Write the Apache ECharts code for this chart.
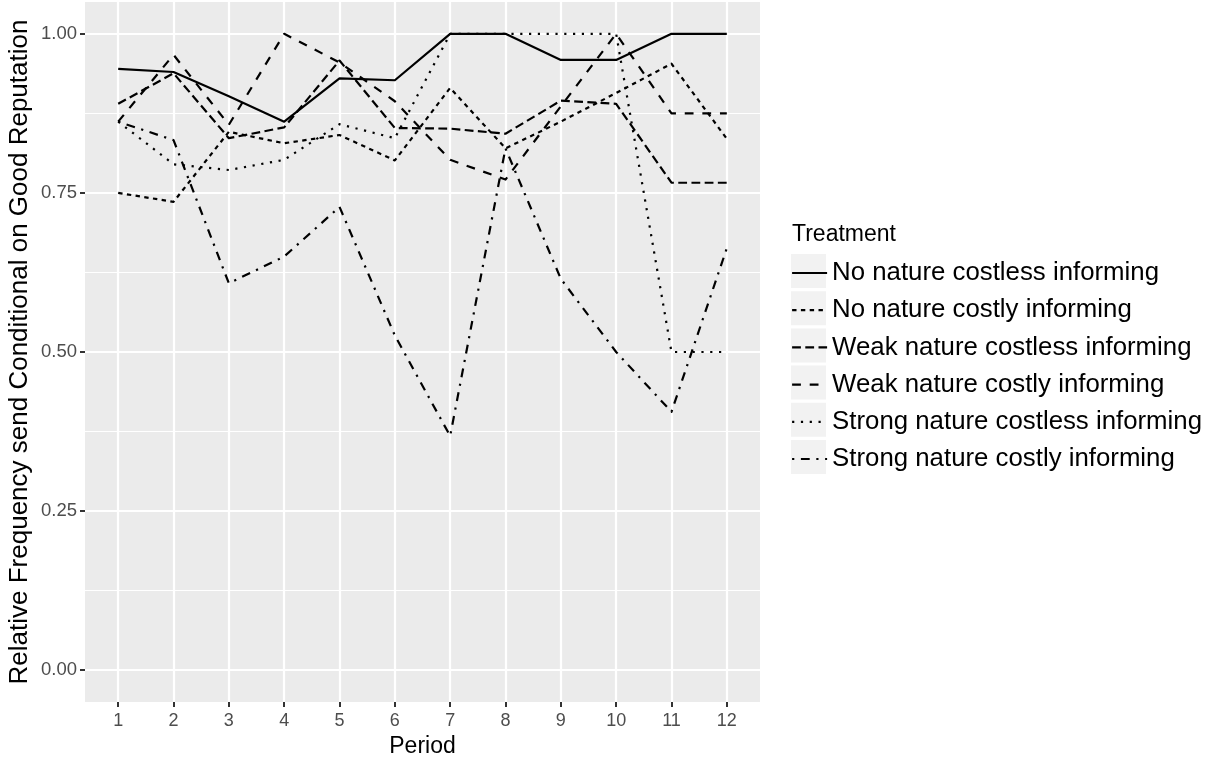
<!DOCTYPE html>
<html>
<head>
<meta charset="utf-8">
<script src="https://cdn.jsdelivr.net/npm/echarts@6/dist/echarts.min.js"></script>
<style>
  html, body { margin: 0; padding: 0; background: #ffffff; }
  #chart { width: 1212px; height: 759px; }
</style>
</head>
<body>
<div id="chart"></div>
<script>
// Periods on the x axis
const periods = [1, 2, 3, 4, 5, 6, 7, 8, 9, 10, 11, 12];

// Treatment names (legend order)
const treatments = [
  'No nature costless informing',
  'No nature costly informing',
  'Weak nature costless informing',
  'Weak nature costly informing',
  'Strong nature costless informing',
  'Strong nature costly informing'
];

// Relative frequency of "send" conditional on good reputation, per period
const noNatureCostless     = [0.945, 0.940, 0.902, 0.862, 0.930, 0.927, 1.000, 1.000, 0.959, 0.959, 1.000, 1.000];
const noNatureCostly       = [0.750, 0.736, 0.846, 0.828, 0.841, 0.801, 0.915, 0.820, 0.862, 0.907, 0.953, 0.835];
const weakNatureCostless   = [0.890, 0.938, 0.836, 0.853, 0.958, 0.852, 0.851, 0.843, 0.895, 0.890, 0.766, 0.766];
const weakNatureCostly     = [0.862, 0.967, 0.857, 1.000, 0.955, 0.894, 0.802, 0.771, 0.886, 1.000, 0.875, 0.875];
const strongNatureCostless = [0.862, 0.795, 0.786, 0.802, 0.858, 0.836, 1.000, 1.000, 1.000, 1.000, 0.500, 0.500];
const strongNatureCostly   = [0.862, 0.833, 0.608, 0.650, 0.728, 0.526, 0.368, 0.820, 0.615, 0.500, 0.406, 0.663];

// Axis breaks
const yMajorTicks = [0, 0.25, 0.5, 0.75, 1];
const yMinorTicks = [0.125, 0.375, 0.625, 0.875];

const seriesValues = [
  noNatureCostless, noNatureCostly, weakNatureCostless,
  weakNatureCostly, strongNatureCostless, strongNatureCostly
];

// Line width and dash patterns (solid, 22, 42, 44, 13, 1343 in line-width units)
const LW = 2.2;
const dashUnits = [null, [2, 2], [4, 2], [4, 4], [1, 3], [1, 3, 4, 3]];
const dashes = dashUnits.map(d => d ? d.map(u => u * LW) : 'solid');

const FONT = "'Liberation Sans', Arial, Helvetica, sans-serif";

const panel = { left: 85, top: 2, width: 675, height: 700 };

const keyTop = 254;
const legendPitch = 37.2;
const keySize = 34;

const chart = echarts.init(document.getElementById('chart'), null, { renderer: 'canvas' });

// Grey key backgrounds behind the legend glyphs
const keyBoxes = treatments.map((t, i) => ({
  type: 'rect',
  left: 791,
  top: keyTop + i * legendPitch,
  shape: { width: 35, height: keySize },
  style: { fill: '#F2F2F2' },
  z: 0
}));

chart.setOption({
  animation: false,
  backgroundColor: '#ffffff',
  textStyle: { fontFamily: FONT },
  grid: {
    left: panel.left, top: panel.top, width: panel.width, height: panel.height,
    outerBoundsMode: 'none',
    containLabel: false,
    show: true, backgroundColor: '#EBEBEB', borderWidth: 0
  },
  xAxis: {
    type: 'value',
    min: 0.4, max: 12.6,
    name: 'Period',
    nameLocation: 'middle',
    nameGap: 32,
    nameTextStyle: { fontSize: 23, color: '#000000', fontFamily: FONT },
    axisLine: { show: false, onZero: false },
    axisTick: { show: true, customValues: periods, length: 5, lineStyle: { color: '#333333', width: 2 } },
    axisLabel: { customValues: periods, color: '#4D4D4D', fontSize: 18, margin: 10, fontFamily: FONT },
    splitLine: { show: true, lineStyle: { color: '#ffffff', width: 2.2 } }
  },
  yAxis: [
    {
      type: 'value',
      min: -0.05, max: 1.05,
      name: 'Relative Frequency send Conditional on Good Reputation',
      nameLocation: 'middle',
      nameGap: 52,
      nameMoveOverlap: false,
      nameTextStyle: { fontSize: 26, color: '#000000', fontFamily: FONT },
      axisLine: { show: false, onZero: false },
      axisTick: { show: true, customValues: yMajorTicks, length: 5, lineStyle: { color: '#333333', width: 2 } },
      axisLabel: {
        customValues: yMajorTicks, color: '#4D4D4D', fontSize: 18.5, margin: 8, fontFamily: FONT,
        formatter: v => v.toFixed(2)
      },
      splitLine: { show: true, lineStyle: { color: '#ffffff', width: 2.2 } }
    },
    {
      type: 'value',
      min: -0.05, max: 1.05,
      position: 'left',
      axisLine: { show: false, onZero: false },
      axisTick: { show: false, customValues: yMinorTicks },
      axisLabel: { show: false, customValues: yMinorTicks },
      splitLine: { show: true, lineStyle: { color: '#ffffff', width: 1.1 } }
    }
  ],
  legend: {
    orient: 'vertical',
    left: 791,
    top: keyTop + 2,
    padding: 0,
    itemWidth: 35,
    itemHeight: keySize,
    itemGap: legendPitch - keySize,
    itemStyle: { opacity: 0 },
    lineStyle: { width: LW },
    textStyle: { fontSize: 25.8, lineHeight: keySize, color: '#000000', fontFamily: FONT },
    data: treatments
  },
  graphic: [
    {
      type: 'text',
      left: 792,
      top: 223,
      style: { text: 'Treatment', font: "23px 'Liberation Sans', Arial, sans-serif", fill: '#000000' }
    },
    ...keyBoxes
  ],
  series: treatments.map((name, i) => ({
    name: name,
    type: 'line',
    xAxisIndex: 0,
    yAxisIndex: 0,
    symbol: 'none',
    data: periods.map((p, j) => [p, seriesValues[i][j]]),
    lineStyle: { color: '#000000', width: LW, type: dashes[i], cap: 'butt', join: 'round' },
    itemStyle: { color: '#000000' },
    z: 3
  }))
});
</script>
</body>
</html>
